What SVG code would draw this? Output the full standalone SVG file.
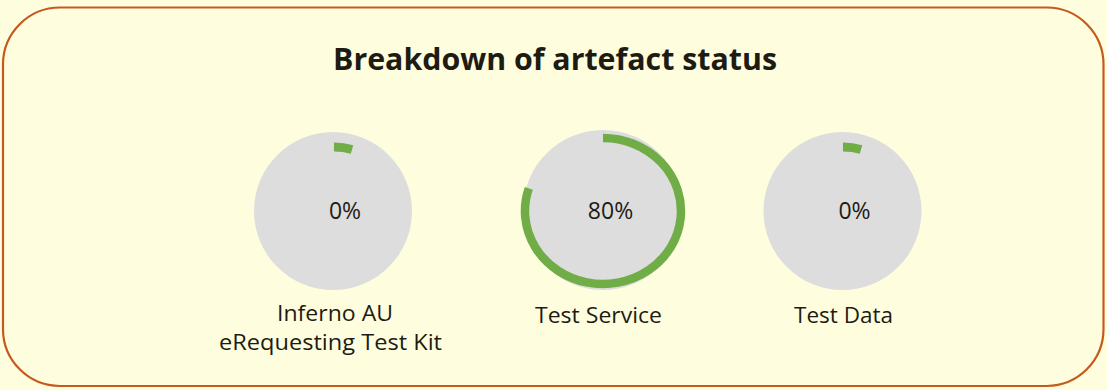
<svg xmlns="http://www.w3.org/2000/svg" width="1107" height="390" viewBox="0 0 1107 390">
  <style>
    .bg { fill: #FEFEDF; }
    .frame { fill: #FEFEDF; stroke: #C55A1E; stroke-width: 2.2; }
    .disc { fill: #DDDDDD; }
    .arc { fill: none; stroke: #70AD47; stroke-width: 8.5; stroke-linecap: butt; }
    .tick { fill: none; stroke: #70AD47; stroke-width: 9; stroke-linecap: butt; }
    text { font-family: "Open Sans", "Noto Sans", "Liberation Sans", sans-serif; fill: #1E1B13; text-anchor: middle; }
    .title { font-size: 31px; font-weight: bold; }
    .pct { font-size: 23px; }
    .lbl { font-size: 22.5px; }
  </style>
  <rect class="bg" x="0" y="0" width="1107" height="390"/>
  <rect class="frame" x="3" y="7.5" width="1100.5" height="378.5" rx="57" ry="57"/>

  <g id="title">
    <text class="title" x="555" y="70" textLength="444" lengthAdjust="spacingAndGlyphs">Breakdown of artefact status</text>
  </g>

  <g id="chart-inferno">
    <circle class="disc" cx="333" cy="211" r="79"/>
    <path class="tick" d="M334,147 A64,64 0 0 1 352,149.5"/>
    <text class="pct" x="345" y="219">0%</text>
    <text class="lbl" x="335" y="321" textLength="116" lengthAdjust="spacingAndGlyphs">Inferno AU</text>
    <text class="lbl" x="330.5" y="350" textLength="223" lengthAdjust="spacingAndGlyphs">eRequesting Test Kit</text>
  </g>

  <g id="chart-test-service">
    <circle class="disc" cx="603" cy="210" r="80"/>
    <path class="arc" d="M603,138 A78,73 0 1 1 528.8,188.4"/>
    <text class="pct" x="610.5" y="219">80%</text>
    <text class="lbl" x="598.5" y="323" textLength="127" lengthAdjust="spacingAndGlyphs">Test Service</text>
  </g>

  <g id="chart-test-data">
    <circle class="disc" cx="842.5" cy="211" r="79"/>
    <path class="tick" d="M843,147 A64,64 0 0 1 861,149.5"/>
    <text class="pct" x="854.5" y="219">0%</text>
    <text class="lbl" x="843.5" y="323" textLength="99" lengthAdjust="spacingAndGlyphs">Test Data</text>
  </g>
</svg>
